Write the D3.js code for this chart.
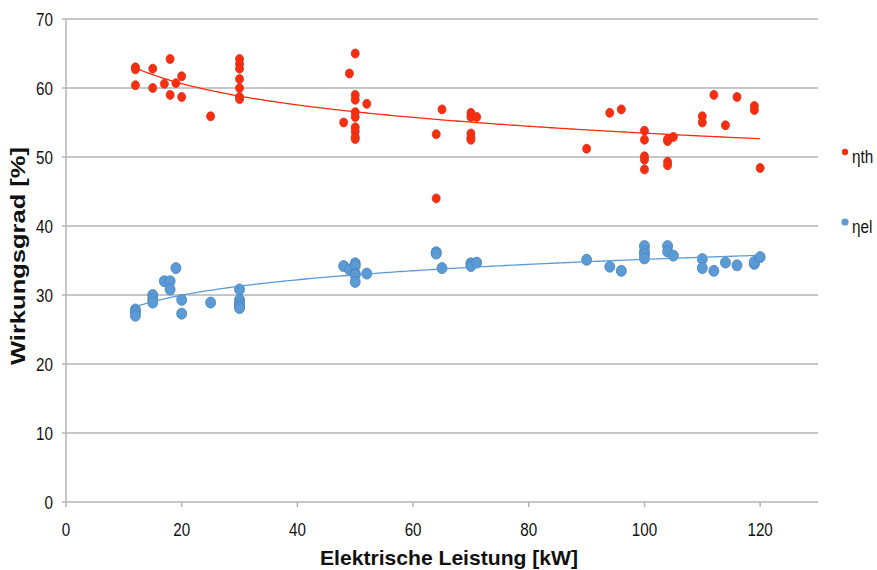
<!DOCTYPE html>
<html><head><meta charset="utf-8">
<script src="https://cdn.jsdelivr.net/npm/d3@7"></script>
<style>
body{margin:0;background:#fff;}
text{font-family:"Liberation Sans",Arial,Helvetica,sans-serif;}
</style></head>
<body><svg id="c" width="877" height="570"></svg>
<script>
// Data: x = electric power [kW], y = efficiency [%]
const thX = [12,12,12,15,15,17,18,18,19,20,20,25,30,30,30,30,30,30,30,48,49,50,50,50,50,50,50,50,50,50,52,64,64,65,70,70,70,70,70,71,90,94,96,100,100,100,100,100,104,104,104,104,105,110,110,112,114,116,119,119,120];
const thY = [63.0,62.7,60.4,62.8,60.0,60.6,64.2,59.0,60.7,61.7,58.7,55.9,64.2,63.5,62.8,61.3,60.0,58.7,58.4,55.0,62.1,65.0,59.0,58.3,56.5,55.8,54.3,53.7,52.9,52.6,57.7,53.3,44.0,56.9,56.4,55.8,53.4,52.8,52.5,55.8,51.2,56.4,56.9,53.8,52.5,50.1,49.6,48.2,52.3,52.6,49.3,48.8,52.9,55.9,55.0,59.0,54.6,58.7,57.4,56.8,48.4];
const elX = [12,12,12,15,15,15,17,18,18,19,20,20,25,30,30,30,30,30,48,49,50,50,50,50,50,52,64,64,65,70,70,71,90,94,96,100,100,100,100,104,104,105,110,110,112,114,116,119,119,120];
const elY = [27.9,27.5,27.0,30.0,29.4,28.9,32.0,32.0,30.8,33.9,29.3,27.3,28.9,30.8,29.3,28.8,28.4,28.1,34.2,33.7,34.6,34.2,33.1,32.9,31.9,33.1,36.2,36.0,33.9,34.6,34.2,34.7,35.1,34.1,33.5,37.1,36.3,35.9,35.3,37.1,36.3,35.7,35.2,33.9,33.5,34.7,34.3,34.5,34.8,35.5];
const xTicks = [0,20,40,60,80,100,120];
const yTicks = [0,10,20,30,40,50,60,70];
const seriesNames = ["\u03b7th","\u03b7el"];
const colors = {th:"#fa2d0f", thStroke:"#d0361f", el:"#5b9bd5", elStroke:"#4a82bd"};

const svg = d3.select("#c");
const x = d3.scaleLinear().domain([0,130]).range([66,818]);
const y = d3.scaleLinear().domain([0,70]).range([502,19]);
const grid = "#b4b4b4";
const narrow = 0.8;

// gridlines (with small tick stubs left of the axis)
svg.append("g").selectAll("line").data(yTicks).join("line")
  .attr("x1",x(0)-4).attr("x2",x(130)).attr("y1",d=>y(d)).attr("y2",d=>y(d))
  .attr("stroke",grid).attr("stroke-width",1.5);
// y axis line
svg.append("line").attr("x1",x(0)).attr("x2",x(0)).attr("y1",y(0)).attr("y2",y(70))
  .attr("stroke",grid).attr("stroke-width",1.5);
// x ticks
svg.append("g").selectAll("line").data(xTicks).join("line")
  .attr("x1",d=>x(d)).attr("x2",d=>x(d)).attr("y1",y(0)).attr("y2",y(0)+5)
  .attr("stroke",grid).attr("stroke-width",1.5);
// tick labels (condensed look)
svg.append("g").selectAll("text").data(yTicks).join("text")
  .attr("transform",d=>`translate(53,${y(d)+7}) scale(${narrow},1)`).attr("text-anchor","end")
  .attr("font-size",19).attr("fill","#111").text(d=>d);
svg.append("g").selectAll("text").data(xTicks).join("text")
  .attr("transform",d=>`translate(${x(d)},535.5) scale(${narrow},1)`).attr("text-anchor","middle")
  .attr("font-size",19).attr("fill","#111").text(d=>d);

// axis titles
svg.append("text").attr("x",320).attr("y",565)
  .attr("font-size",21).attr("font-weight","bold").attr("fill","#111")
  .attr("textLength",258).attr("lengthAdjust","spacingAndGlyphs")
  .text("Elektrische Leistung [kW]");
svg.append("text").attr("transform","translate(25,365) rotate(-90)")
  .attr("font-size",21).attr("font-weight","bold").attr("fill","#111")
  .attr("textLength",218).attr("lengthAdjust","spacingAndGlyphs")
  .text("Wirkungsgrad [%]");

// logarithmic trend lines computed from the data
function logFit(xs, ys){
  const lx = xs.map(Math.log), n = xs.length;
  const mx = d3.mean(lx), my = d3.mean(ys);
  let sxy=0, sxx=0;
  for(let i=0;i<n;i++){sxy+=(lx[i]-mx)*(ys[i]-my); sxx+=(lx[i]-mx)**2;}
  const b = sxy/sxx, a = my - b*mx;
  return v => a + b*Math.log(v);
}
const line = d3.line().x(d=>x(d[0])).y(d=>y(d[1]));
function trend(xs, ys, col){
  const f = logFit(xs, ys);
  const pts = d3.range(d3.min(xs), d3.max(xs)+0.01, 0.5).map(v=>[v,f(v)]);
  svg.append("path").attr("d",line(pts)).attr("fill","none").attr("stroke",col).attr("stroke-width",1.3);
}

// points
const thData = thX.map((v,i)=>[v,thY[i]]);
const elData = elX.map((v,i)=>[v,elY[i]]);
svg.append("g").selectAll("ellipse").data(elData).join("ellipse")
  .attr("cx",d=>x(d[0])).attr("cy",d=>y(d[1])).attr("rx",5).attr("ry",5.5)
  .attr("fill",colors.el).attr("stroke",colors.elStroke).attr("stroke-width",0.8);
trend(elX, elY, "#5b9bd5");
svg.append("g").selectAll("ellipse").data(thData).join("ellipse")
  .attr("cx",d=>x(d[0])).attr("cy",d=>y(d[1])).attr("rx",4).attr("ry",4.5)
  .attr("fill",colors.th).attr("stroke",colors.thStroke).attr("stroke-width",0.8);
trend(thX, thY, "#ff2a0a");

// legend
const leg = [{n:seriesNames[0],c:colors.th,y:152,r:3.2},{n:seriesNames[1],c:colors.el,y:222,r:3.6}];
const lg = svg.append("g").selectAll("g").data(leg).join("g");
lg.append("circle").attr("cx",845).attr("cy",d=>d.y).attr("r",d=>d.r).attr("fill",d=>d.c);
lg.append("text").attr("transform",d=>`translate(852,${d.y+11}) scale(0.85,1)`)
  .attr("font-size",18).attr("fill","#111").text(d=>d.n);
</script></body></html>
